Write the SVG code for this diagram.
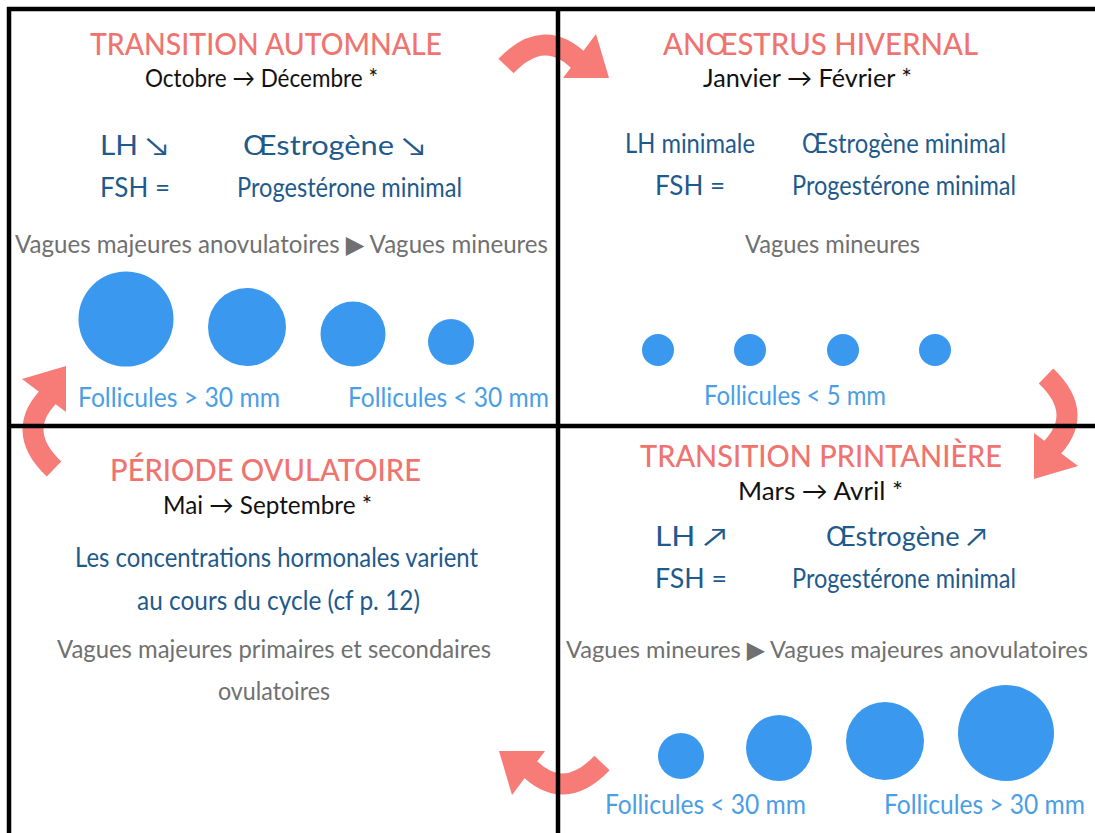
<svg xmlns="http://www.w3.org/2000/svg" width="1095" height="833" viewBox="0 0 1095 833">
<defs>
<style>
text{font-family:Lato,"Liberation Sans","DejaVu Sans",sans-serif;}
.title{font-size:30px;fill:#ef7470;font-weight:500;}
.date{font-size:25px;fill:#111;}
.hor{font-size:26px;fill:#1f5a8c;}
.gray{font-size:25px;fill:#707070;}
.fol{font-size:26px;fill:#4a9ee6;}
.circ{fill:#3a98ef;}
.line{stroke:#000;stroke-width:4.5;fill:none;}
</style>
<g id="curvedArrow">
<path d="M -47 11 Q -8 -30 29 9" fill="none" stroke="#f77b76" stroke-width="21"/>
<polygon points="43,-21 56,23 10,23" fill="#f77b76"/>
</g>
</defs>
<rect width="1095" height="833" fill="#fff"/>

<g id="connectors">
<use href="#curvedArrow" transform="translate(553,55)"/>
<use href="#curvedArrow" transform="translate(1057,423) rotate(90)"/>
<use href="#curvedArrow" transform="translate(555,774) rotate(180)"/>
<use href="#curvedArrow" transform="translate(43,422) rotate(270)"/>
</g>

<g id="grid">
<line class="line" x1="7" y1="9" x2="1095" y2="9"/>
<line class="line" x1="9" y1="7" x2="9" y2="833"/>
<line class="line" x1="558" y1="7" x2="558" y2="833"/>
<line class="line" x1="7" y1="426" x2="1095" y2="426"/>
</g>

<g id="transition-automnale">
<text class="title" x="90" y="55" textLength="352" lengthAdjust="spacingAndGlyphs">TRANSITION AUTOMNALE</text>
<text class="date" x="145" y="87" textLength="233" lengthAdjust="spacingAndGlyphs">Octobre → Décembre *</text>
<text class="hor" x="100" y="155" textLength="68" lengthAdjust="spacingAndGlyphs">LH ↘</text>
<text class="hor" x="243" y="155" textLength="182" lengthAdjust="spacingAndGlyphs">Œstrogène ↘</text>
<text class="hor" x="100" y="197" textLength="70" lengthAdjust="spacingAndGlyphs">FSH =</text>
<text class="hor" x="237" y="197" textLength="225" lengthAdjust="spacingAndGlyphs">Progestérone minimal</text>
<text class="gray" x="15" y="253" textLength="533" lengthAdjust="spacingAndGlyphs">Vagues majeures anovulatoires ▶ Vagues mineures</text>
<circle class="circ" cx="126" cy="319" r="47.5"/>
<circle class="circ" cx="247" cy="327" r="39"/>
<circle class="circ" cx="353" cy="334" r="32.5"/>
<circle class="circ" cx="451" cy="342" r="23"/>
<text class="fol" x="78" y="407" textLength="202" lengthAdjust="spacingAndGlyphs">Follicules &gt; 30 mm</text>
<text class="fol" x="348" y="407" textLength="201" lengthAdjust="spacingAndGlyphs">Follicules &lt; 30 mm</text>
</g>

<g id="anoestrus-hivernal">
<text class="title" x="663" y="55" textLength="315" lengthAdjust="spacingAndGlyphs">ANŒSTRUS HIVERNAL</text>
<text class="date" x="703" y="87" textLength="209" lengthAdjust="spacingAndGlyphs">Janvier → Février *</text>
<text class="hor" x="625" y="153" textLength="130" lengthAdjust="spacingAndGlyphs">LH minimale</text>
<text class="hor" x="802" y="153" textLength="204" lengthAdjust="spacingAndGlyphs">Œstrogène minimal</text>
<text class="hor" x="655" y="195" textLength="70" lengthAdjust="spacingAndGlyphs">FSH =</text>
<text class="hor" x="792" y="195" textLength="224" lengthAdjust="spacingAndGlyphs">Progestérone minimal</text>
<text class="gray" x="745" y="253" textLength="175" lengthAdjust="spacingAndGlyphs">Vagues mineures</text>
<circle class="circ" cx="658" cy="350" r="16"/>
<circle class="circ" cx="750" cy="350" r="16"/>
<circle class="circ" cx="843" cy="350" r="16"/>
<circle class="circ" cx="935" cy="350" r="16"/>
<text class="fol" x="704" y="405" textLength="182" lengthAdjust="spacingAndGlyphs">Follicules &lt; 5 mm</text>
</g>

<g id="periode-ovulatoire">
<text class="title" x="110" y="481" textLength="311" lengthAdjust="spacingAndGlyphs">PÉRIODE OVULATOIRE</text>
<text class="date" x="163" y="514" textLength="209" lengthAdjust="spacingAndGlyphs">Mai → Septembre *</text>
<text class="hor" x="75" y="567" textLength="403" lengthAdjust="spacingAndGlyphs">Les concentrations hormonales varient</text>
<text class="hor" x="137" y="610" textLength="283" lengthAdjust="spacingAndGlyphs">au cours du cycle (cf p. 12)</text>
<text class="gray" x="57" y="658" textLength="434" lengthAdjust="spacingAndGlyphs">Vagues majeures primaires et secondaires</text>
<text class="gray" x="218" y="700" textLength="112" lengthAdjust="spacingAndGlyphs">ovulatoires</text>
</g>

<g id="transition-printaniere">
<text class="title" x="640" y="467" textLength="362" lengthAdjust="spacingAndGlyphs">TRANSITION PRINTANIÈRE</text>
<text class="date" x="738" y="500" textLength="165" lengthAdjust="spacingAndGlyphs">Mars → Avril *</text>
<text class="hor" x="655" y="546" textLength="72" lengthAdjust="spacingAndGlyphs">LH ↗</text>
<text class="hor" x="826" y="546" textLength="161" lengthAdjust="spacingAndGlyphs">Œstrogène ↗</text>
<text class="hor" x="655" y="588" textLength="72" lengthAdjust="spacingAndGlyphs">FSH =</text>
<text class="hor" x="792" y="588" textLength="224" lengthAdjust="spacingAndGlyphs">Progestérone minimal</text>
<text class="gray" x="566" y="658" style="font-size:24px" textLength="522" lengthAdjust="spacingAndGlyphs">Vagues mineures ▶ Vagues majeures anovulatoires</text>
<circle class="circ" cx="681" cy="756" r="23"/>
<circle class="circ" cx="779" cy="748" r="33"/>
<circle class="circ" cx="885" cy="741" r="39"/>
<circle class="circ" cx="1006" cy="733" r="48"/>
<text class="fol" x="605" y="814" textLength="201" lengthAdjust="spacingAndGlyphs">Follicules &lt; 30 mm</text>
<text class="fol" x="884" y="814" textLength="201" lengthAdjust="spacingAndGlyphs">Follicules &gt; 30 mm</text>
</g>
</svg>
